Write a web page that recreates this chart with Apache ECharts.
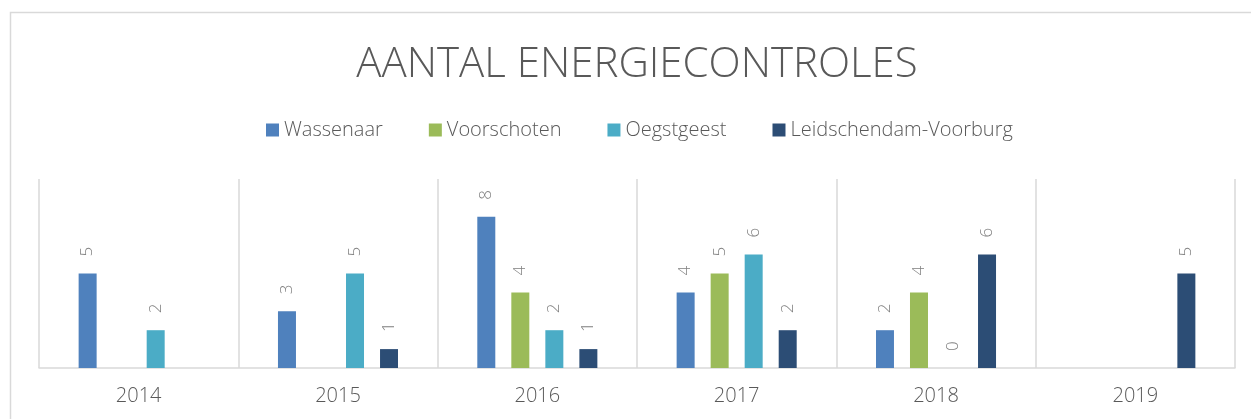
<!DOCTYPE html>
<html>
<head>
<meta charset="utf-8">
<script src="https://cdn.jsdelivr.net/npm/echarts@6/dist/echarts.min.js"></script>
<style>
html,body{margin:0;padding:0;background:#fff;}
#chart{width:1251px;height:419px;}
</style>
</head>
<body>
<div id="chart"></div>
<script>
const titleText = 'AANTAL ENERGIECONTROLES';
const categories = ['2014', '2015', '2016', '2017', '2018', '2019'];
const seriesNames = ['Wassenaar', 'Voorschoten', 'Oegstgeest', 'Leidschendam-Voorburg'];
const wassenaar = [5, 3, 8, 4, 2, null];
const voorschoten = [null, null, 4, 5, 4, null];
const oegstgeest = [2, 5, 2, 6, 0, null];
const leidschendam = [null, 1, 1, 2, 6, 5];
const seriesValues = [wassenaar, voorschoten, oegstgeest, leidschendam];
const colors = ['#4F81BD', '#9BBB59', '#4BACC6', '#2C4D75'];

const chart = echarts.init(document.getElementById('chart'), null, {renderer: 'canvas'});
const font = '"Open Sans", "Noto Sans", sans-serif';

chart.setOption({
  animation: false,
  color: colors,
  graphic: [{
    type: 'rect',
    shape: {x: 10.5, y: 12.5, width: 1300, height: 500},
    style: {fill: 'none', stroke: '#d9d9d9', lineWidth: 1.5},
    silent: true
  }],
  title: {
    text: titleText,
    left: 632,
    textAlign: 'center',
    top: 39,
    textStyle: {fontFamily: font, fontSize: 42, fontWeight: 300, color: '#595959'}
  },
  legend: {
    data: seriesNames,
    top: 115,
    left: 261,
    itemWidth: 13,
    itemHeight: 13,
    itemGap: 46,
    icon: 'rect',
    textStyle: {fontFamily: font, fontSize: 20, fontWeight: 300, color: '#595959'}
  },
  grid: {left: 39, right: 16, top: 179, bottom: 51, containLabel: false},
  xAxis: {
    type: 'category',
    data: categories,
    axisLine: {lineStyle: {color: '#d9d9d9', width: 1.5}},
    axisTick: {show: false},
    splitLine: {show: true, lineStyle: {color: '#d9d9d9', width: 1.5}},
    axisLabel: {fontFamily: font, fontSize: 20, fontWeight: 300, color: '#595959', margin: 18}
  },
  yAxis: {
    type: 'value',
    min: 0, max: 10, interval: 2,
    show: false
  },
  series: seriesNames.map((name, i) => ({
    name: name,
    type: 'bar',
    data: seriesValues[i],
    barWidth: 18,
    barGap: '89%',
    label: {
      show: true,
      position: 'top',
      rotate: 90,
      align: 'left',
      verticalAlign: 'middle',
      distance: 17,
      fontFamily: font,
      fontSize: 17,
      fontWeight: 300,
      color: '#7f7f7f'
    }
  }))
});
</script>
</body>
</html>
